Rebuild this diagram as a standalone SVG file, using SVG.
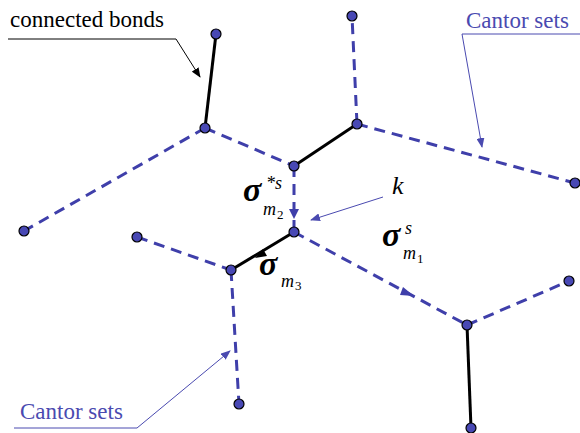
<svg xmlns="http://www.w3.org/2000/svg" width="580" height="433" viewBox="0 0 580 433">
<defs>
<style>
.dash{stroke:#3f3faa;stroke-width:3;stroke-dasharray:11 7;fill:none}
.solid{stroke:#000;stroke-width:3;fill:none}
.node circle{fill:#4848b4;stroke:#000;stroke-width:1.2}
.lead{stroke:#000;stroke-width:1;fill:none}
.leadb{stroke:#4a4ab0;stroke-width:1;fill:none}
.t{font-family:'Times New Roman','Liberation Serif',serif}
</style>
<marker id="ab" markerWidth="10" markerHeight="8" refX="9" refY="4" orient="auto" markerUnits="userSpaceOnUse"><path d="M0,0 L10,4 L0,8 z" fill="#000"/></marker>
<marker id="au" markerWidth="10" markerHeight="8" refX="9" refY="4" orient="auto" markerUnits="userSpaceOnUse"><path d="M0,0 L10,4 L0,8 z" fill="#4a4ab0"/></marker>
</defs>
<g id="connectors">
<line class="solid" x1="216" y1="34" x2="205" y2="128"/>
<line class="dash" x1="205" y1="128" x2="294" y2="166"/>
<line class="dash" x1="205" y1="128" x2="24" y2="231"/>
<line class="solid" x1="294" y1="166" x2="357" y2="124"/>
<line class="dash" x1="357" y1="124" x2="352" y2="16"/>
<line class="dash" x1="357" y1="124" x2="575" y2="183"/>
<line class="dash" x1="294" y1="166" x2="294" y2="232"/>
<path d="M289,209 L299,209 L294,219 z" fill="#3f3faa"/>
<line class="solid" x1="294" y1="232" x2="231" y2="270"/>
<path d="M263,249 L255,258 L267,256 z" fill="#000"/>
<line class="dash" x1="294" y1="232" x2="467" y2="325"/>
<path d="M403,287 L414,296 L400,295 z" fill="#3f3faa"/>
<line class="dash" x1="137" y1="237" x2="231" y2="270"/>
<line class="dash" x1="231" y1="270" x2="239" y2="404"/>
<line class="dash" x1="467" y1="325" x2="569" y2="281"/>
<line class="solid" x1="467" y1="325" x2="471" y2="428"/>
</g>
<g id="node-A" class="node"><circle cx="216" cy="34" r="5"/></g>
<g id="node-B" class="node"><circle cx="205" cy="128" r="5"/></g>
<g id="node-C" class="node"><circle cx="357" cy="124" r="5"/></g>
<g id="node-D" class="node"><circle cx="352" cy="16" r="5"/></g>
<g id="node-E" class="node"><circle cx="294" cy="166" r="5"/></g>
<g id="node-F" class="node"><circle cx="575" cy="183" r="5"/></g>
<g id="node-G" class="node"><circle cx="24" cy="231" r="5"/></g>
<g id="node-H" class="node"><circle cx="294" cy="232" r="5"/></g>
<g id="node-I" class="node"><circle cx="137" cy="237" r="5"/></g>
<g id="node-J" class="node"><circle cx="231" cy="270" r="5"/></g>
<g id="node-K" class="node"><circle cx="569" cy="281" r="5"/></g>
<g id="node-L" class="node"><circle cx="467" cy="325" r="5"/></g>
<g id="node-M" class="node"><circle cx="239" cy="404" r="5"/></g>
<g id="node-N" class="node"><circle cx="471" cy="428" r="5"/></g>
<g id="label-connected">
<text class="t" x="10" y="27" style="font-family:'Liberation Serif',serif;font-size:23px" fill="#000">connected bonds</text>
<polyline class="lead" points="8,39 176,39 200,77" marker-end="url(#ab)"/>
</g>
<g id="label-cantor-top">
<text class="t" x="466" y="28" style="font-family:'Liberation Serif',serif;font-size:23px" fill="#4a4ab0">Cantor sets</text>
<polyline class="leadb" points="580,34 462,34 482,147" marker-end="url(#au)"/>
</g>
<g id="label-cantor-bottom">
<text class="t" x="20" y="419" style="font-family:'Liberation Serif',serif;font-size:23px" fill="#4a4ab0">Cantor sets</text>
<polyline class="leadb" points="14,428 137,428 230,351" marker-end="url(#au)"/>
</g>
<g id="label-k">
<text class="t" x="392" y="194" style="font-family:'Liberation Serif',serif;font-style:italic;font-size:26px" fill="#000">k</text>
<line class="leadb" x1="383" y1="197" x2="311" y2="220" marker-end="url(#au)"/>
</g>
<g id="label-sigma-m2" style="font-family:'Liberation Serif',serif;font-style:italic">
<text x="243" y="201" style="font-weight:bold;font-size:34px">σ</text>
<text x="266" y="189" style="font-size:18px">*s</text>
<text x="263" y="215" style="font-size:18px">m</text><text x="277" y="219" style="font-size:13px;font-style:normal">2</text>
</g>
<g id="label-sigma-m3" style="font-family:'Liberation Serif',serif;font-style:italic">
<text x="259" y="275" style="font-weight:bold;font-size:34px">σ</text>
<text x="281" y="287" style="font-size:18px">m</text><text x="295" y="290" style="font-size:13px;font-style:normal">3</text>
</g>
<g id="label-sigma-m1" style="font-family:'Liberation Serif',serif;font-style:italic">
<text x="382" y="246" style="font-weight:bold;font-size:34px">σ</text>
<text x="405" y="234" style="font-size:18px">s</text>
<text x="403" y="259" style="font-size:18px">m</text><text x="417" y="263" style="font-size:13px;font-style:normal">1</text>
</g>
</svg>
